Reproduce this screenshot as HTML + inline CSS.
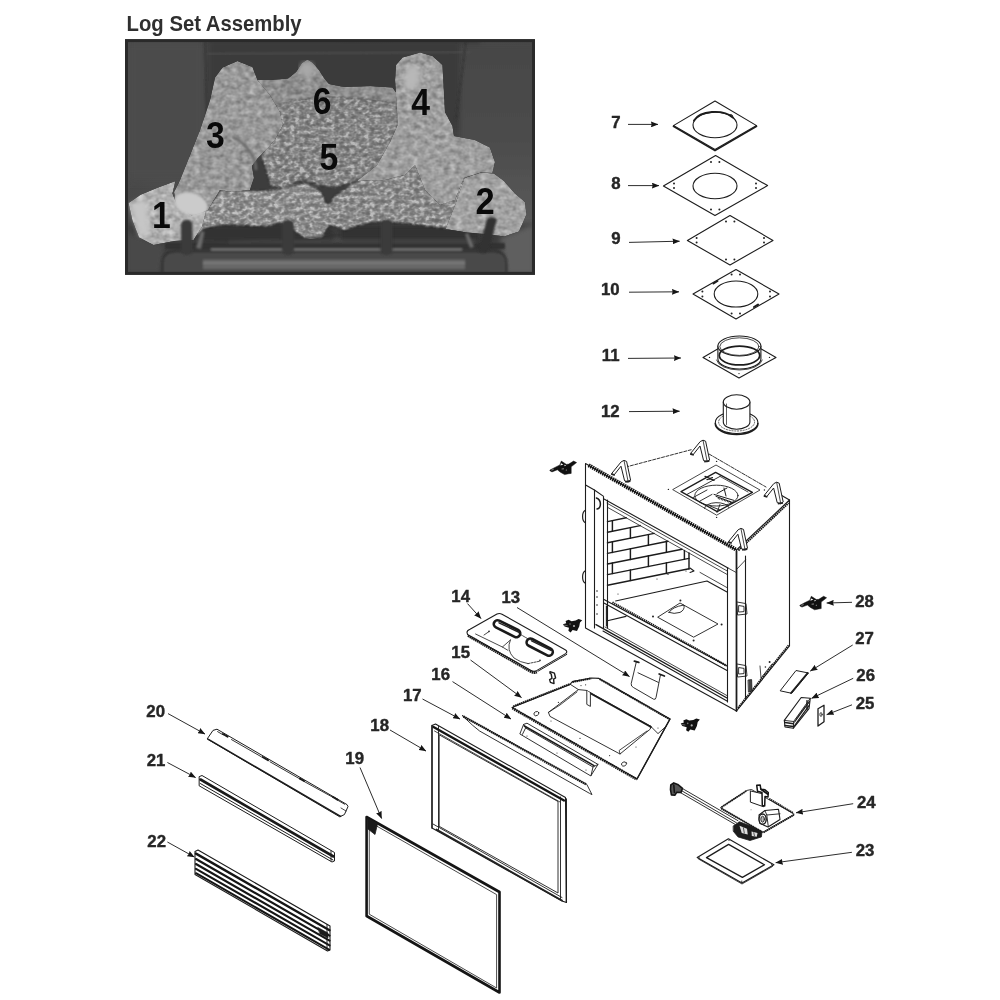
<!DOCTYPE html>
<html lang="en">
<head>
<meta charset="utf-8">
<title>Log Set Assembly</title>
<style>
html,body{margin:0;padding:0;background:#fff;}
body{width:1000px;height:1000px;overflow:hidden;font-family:"Liberation Sans",sans-serif;}
svg{display:block;position:absolute;left:0;top:0;will-change:transform;}
.ln{fill:none;stroke:#1c1c1c;stroke-width:1.1;stroke-linejoin:round;stroke-linecap:round;}
.lt{fill:none;stroke:#333;stroke-width:0.8;stroke-linejoin:round;stroke-linecap:round;}
.wf{fill:#fff;stroke:#1c1c1c;stroke-width:1.1;stroke-linejoin:round;}
.lbl{font-family:"Liberation Sans",sans-serif;font-weight:bold;font-size:16.8px;fill:#262626;stroke:#262626;stroke-width:0.4px;stroke-linejoin:round;}
.big{font-family:"Liberation Sans",sans-serif;font-weight:bold;font-size:37.5px;fill:#0a0a0a;}
.ttl{font-family:"Liberation Sans",sans-serif;font-weight:bold;font-size:21.4px;fill:#2f2f2f;}
.nss,.nss *{vector-effect:non-scaling-stroke;}
.ar{fill:none;stroke:#222;stroke-width:0.95;}
</style>
</head>
<body>
<svg width="1000" height="1000" viewBox="0 0 1000 1000">
<defs>
<marker id="ah" viewBox="0 0 10 8" refX="9.6" refY="4" markerWidth="7.4" markerHeight="5.9" markerUnits="userSpaceOnUse" orient="auto">
<path d="M0,0 L10,4 L0,8 L0.9,4 Z" fill="#151515"/>
</marker>
</defs>
<!-- 05_defs.svg -->
<defs>
<g id="clipA">
<path d="M0.3,9.3 L5.4,6.6 L10.2,4.2 L11.7,0.3 L16.8,3.6 L19.2,3.3 L24,0.3 L27,1.8 L21.6,6 L21.6,12.6 L19.2,12.9 L15,13.8 L10.8,11.4 L7.8,9 L2.4,11.1 L0.3,9.9 Z" fill="#111" stroke="#111" stroke-width="0.5" stroke-linejoin="round"/>
<path d="M11.4,2.4 L13.8,3.6 L10.8,4.8 Z M14.8,3.9 L16.6,4.5 L15,5.5 Z" fill="#fff"/>
<path d="M12,8.2 L14.4,8 M16.2,9.4 L17.4,9.2 M1.8,9.4 L4,8.6" stroke="#9a9a9a" stroke-width="0.9" fill="none"/>
</g>
<g id="clipB">
<path d="M3,2.5 L6,1.2 L9,2.6 L13,2 L16,0.4 L19.6,1.6 L17.4,4 L16.6,8 L14.4,12.4 L10,11.4 L8,13.8 L5.8,12.2 L6.4,9.2 L2,8 L0.4,5.6 L3.6,4.6 Z" fill="#111"/>
<circle cx="11.4" cy="7.4" r="1.1" fill="#aaa"/><circle cx="7.4" cy="5.4" r="0.8" fill="#777"/>
<path d="M1,6.5 L5,7" stroke="#888" stroke-width="0.7"/>
</g>
<g id="brk">
<path d="M-2.4,0.6 L0.4,-0.8 L3,0.2 L7,19 L4.6,20.8 L1,19.6 L-2.6,5 L-9.4,13.6 L-12,12.4 Z" fill="#fff" stroke="#1c1c1c" stroke-width="1"/>
<path d="M0.4,-0.8 L4.6,20.8" fill="none" stroke="#1c1c1c" stroke-width="0.8"/>
<path d="M-12.4,12.8 L-8.8,14 M1.6,20.6 L6.8,19.8" fill="none" stroke="#222" stroke-width="1.8"/>
</g>
</defs>

<!-- 10_title.svg -->
<text class="ttl" x="126.6" y="30.8" textLength="175" lengthAdjust="spacingAndGlyphs">Log Set Assembly</text>

<!-- 20_photo.svg -->
<defs>
<linearGradient id="bgL" x1="0" y1="0" x2="1" y2="0">
<stop offset="0" stop-color="#484848"/><stop offset="0.1" stop-color="#4c4c4c"/><stop offset="0.2" stop-color="#474747"/>
<stop offset="0.55" stop-color="#3e3e3e"/><stop offset="0.8" stop-color="#404040"/><stop offset="0.88" stop-color="#484848"/><stop offset="1" stop-color="#474747"/>
</linearGradient>
<linearGradient id="bgR" x1="0" y1="0" x2="0" y2="1"><stop offset="0" stop-color="#464646"/><stop offset="0.5" stop-color="#4c4c4c"/><stop offset="1" stop-color="#5a5a5a"/></linearGradient>
<linearGradient id="barG" x1="0" y1="0" x2="0" y2="1">
<stop offset="0" stop-color="#3a3a3a"/><stop offset="0.22" stop-color="#747474"/><stop offset="0.45" stop-color="#4a4a4a"/><stop offset="0.75" stop-color="#5c5c5c"/><stop offset="1" stop-color="#3a3a3a"/>
</linearGradient>
<linearGradient id="bar2G" x1="0" y1="0" x2="0" y2="1">
<stop offset="0" stop-color="#333"/><stop offset="0.5" stop-color="#5a5a5a"/><stop offset="1" stop-color="#333"/>
</linearGradient>
<filter id="tex" x="0" y="0" width="100%" height="100%" color-interpolation-filters="sRGB">
<feTurbulence type="fractalNoise" baseFrequency="0.16 0.2" numOctaves="2" seed="7" result="n"/>
<feColorMatrix in="n" type="matrix" values="0.5 0.5 0 0 0  0.5 0.5 0 0 0  0.5 0.5 0 0 0  0 0 0 0 1" result="g"/>
<feGaussianBlur in="SourceGraphic" stdDeviation="0.7" result="s"/>
<feComposite in="s" in2="g" operator="arithmetic" k1="0" k2="1" k3="0.5" k4="-0.25" result="m"/>
<feComposite in="m" in2="s" operator="in"/>
</filter>
<filter id="tex2" x="0" y="0" width="100%" height="100%" color-interpolation-filters="sRGB">
<feTurbulence type="fractalNoise" baseFrequency="0.2 0.26" numOctaves="2" seed="11" result="n"/>
<feColorMatrix in="n" type="matrix" values="0.5 0.5 0 0 0  0.5 0.5 0 0 0  0.5 0.5 0 0 0  0 0 0 0 1" result="g0"/>
<feComponentTransfer in="g0" result="g"><feFuncR type="gamma" amplitude="3.4" exponent="3" offset="0"/><feFuncG type="gamma" amplitude="3.4" exponent="3" offset="0"/><feFuncB type="gamma" amplitude="3.4" exponent="3" offset="0"/></feComponentTransfer>
<feGaussianBlur in="SourceGraphic" stdDeviation="0.8" result="s"/>
<feComposite in="s" in2="g" operator="arithmetic" k1="0" k2="1" k3="0.34" k4="-0.14" result="m"/>
<feGaussianBlur in="m" stdDeviation="0.45" result="mb"/>
<feComposite in="mb" in2="s" operator="in"/>
</filter>
<filter id="bl1"><feGaussianBlur stdDeviation="1"/></filter>
<filter id="bl2"><feGaussianBlur stdDeviation="2.5"/></filter>
<filter id="bl4"><feGaussianBlur stdDeviation="5"/></filter>
<clipPath id="phc"><rect x="126" y="40" width="408" height="234"/></clipPath>
</defs>
<rect x="125.5" y="39.5" width="409" height="235" fill="url(#bgL)"/>
<g clip-path="url(#phc)">
<!-- back wall -->
<rect x="205" y="40" width="275" height="90" fill="#3a3a3a" filter="url(#bl2)"/>
<rect x="126" y="40" width="80" height="140" fill="#4b4b4b" filter="url(#bl4)"/>
<rect x="460" y="44" width="76" height="190" fill="url(#bgR)" filter="url(#bl2)"/>
<path d="M207,54 L470,52" stroke="#505050" stroke-width="1.5" fill="none" filter="url(#bl1)"/>
<path d="M205,40 L207,120 M466,40 L456,120" stroke="#333" stroke-width="1.5" fill="none" filter="url(#bl1)"/>
<!-- floor / bottom -->
<rect x="126" y="224" width="408" height="50" fill="#3c3c3c" filter="url(#bl2)"/>
<path d="M500,238 L534,224 L534,274 L506,274 Z" fill="#5e5e5e" filter="url(#bl2)"/>
<path d="M126,232 L165,246 L160,274 L126,274 Z" fill="#484848" filter="url(#bl2)"/>
<!-- grate -->
<g filter="url(#bl1)">
<rect x="227" y="236.5" width="250" height="9.5" rx="4.5" fill="#4a4a4a" stroke="#2c2c2c" stroke-width="1.2"/>
<rect x="165" y="243" width="340" height="6" fill="#303030"/>
<path d="M162.5,274 L162.5,263 Q162.5,251.5 176,251.5 L494,251.5 Q506,251.5 506.5,263 L506.5,274 Z" fill="#484848" stroke="#2a2a2a" stroke-width="1.6"/>
<rect x="203" y="259.6" width="262" height="9.6" fill="#686868"/>
<rect x="203" y="262.2" width="262" height="1.6" fill="#808080"/>
<path d="M211,249.6 L462,249.6" stroke="#8e8e8e" stroke-width="1.5" fill="none"/>
</g>
</g>

<!-- 22_logs.svg -->
<g clip-path="url(#phc)">
<!-- shadows behind logs -->
<path d="M248,160 L268,160 L272,195 L244,195 Z M320,180 L360,175 L350,205 L322,210 Z" fill="#3c3c3c" filter="url(#bl1)"/>
<path d="M200,225 L330,222 L335,240 L200,242 Z M340,225 L480,225 L480,240 L340,240 Z" fill="#333" filter="url(#bl2)"/>
<g filter="url(#tex)">
<!-- log 6 back -->
<path d="M257,80 L270,80 L288,78.5 L296,72 L302,63 L307.5,59.5 L313,63 L319,70 L324,78 L329,84 L345,87 L370,86 L392.5,87.5 L398,95 L398,130 L385,158 L330,150 L300,110 L265,120 Z" fill="#8e8e8e"/>
</g>
<g filter="url(#tex2)">
<!-- log 5 center -->
<path d="M262,108 L290,100 L330,96 L360,98 L397,102 L398,125 L392,142 L380,162 L368,174 L352,183 L335,188 L320,186 L303,180 L285,188 L270,186 L266,172 L262,160 L262,140 Z" fill="#858585"/>
<!-- right lower log -->
<path d="M352,184 L370,172 L385,156 L400,150 L440,150 L465,176 L470,228 L445,229 L424,226 L399,223 L378,222 L361,225 L345,231 L330,225 L324,210 L335,195 Z" fill="#8a8a8a"/>
<!-- middle lower log -->
<path d="M205,212 L220,190 L250,190 L268,190 L285,188 L305,182 L320,190 L328,205 L330,225 L322,238 L305,239 L294,231 L280,223 L267,227 L246,226 L225,225 L204,229 L198,236 L190,225 Z" fill="#8e8e8e"/>
</g>
<g filter="url(#tex)">
<!-- log 4 + right lump -->
<path d="M420,52.5 L432.5,56 L442.5,65 L444,92 L445,112 L452.5,126 L454,136 L475,140 L490,147.5 L495,162 L492.5,173 L481,172.5 L464,178 L455,200 L440,205 L425,190 L415,165 L405,175 L385,180 L357,181 L377,165 L390,142 L398,124 L397,112 L395,80 L396,65 L402.5,57.5 Z" fill="#9e9e9e"/>
<!-- log 3 -->
<path d="M237.5,61 L252.5,67 L257.5,80 L270,95 L280,112 L283,125 L275,140 L266,150 L258,158 L252,166 L254,178 L250,190 L232,192 L220,190 L208,210 L192,216 L176,206 L174,192 L180,180 L190,155 L200,130 L210,100 L215,77.5 L222.5,67.5 Z" fill="#999"/>
<!-- log 1 -->
<path d="M128.5,203 L141,194.5 L158,187.5 L175.5,181 L172.5,193.5 L177,205 L191.5,215.5 L206,211.5 L202,227 L193.5,240 L174.5,241 L153.5,245 L139,237.5 L132.5,221 Z" fill="#b0b0b0"/>
<!-- log 2 -->
<path d="M464.5,178 L481,172.5 L494,173.5 L504,181 L515,193.5 L525,202 L526.5,214.5 L519,231.5 L504.5,236.5 L489.5,234.5 L466.5,232.5 L445.5,229 L455,205 Z" fill="#a2a2a2"/>
</g>
<path d="M232,137 Q242,140 250,152 Q256,160 256,170" fill="none" stroke="#6a6a6a" stroke-width="2.5" filter="url(#bl1)"/>
<!-- highlights -->
<ellipse cx="191" cy="204" rx="17" ry="11" transform="rotate(18 191 204)" fill="#cbcbcb" filter="url(#bl1)"/>
<ellipse cx="412" cy="78" rx="8" ry="13" transform="rotate(12 412 78)" fill="#b8b8b8" filter="url(#bl2)"/>
<path d="M130,205 L146,198 L150,235 L140,236 Z" fill="#c6c6c6" filter="url(#bl2)"/>
<ellipse cx="307" cy="70" rx="7" ry="8" fill="#a8a8a8" filter="url(#bl2)"/>
<!-- prongs -->
<g filter="url(#bl1)" fill="#3a3a3a">
<rect x="181" y="220" width="11.5" height="35" rx="5"/>
<rect x="282" y="220" width="12" height="35" rx="5"/>
<rect x="380.5" y="220" width="12" height="35" rx="5"/>
<path d="M487,219 Q492,215 497,219 L488.5,251 Q483,255 478,251 Z" fill="#303030"/>
<path d="M196,248 L201,231 L204.5,232 L201,249 Z" fill="#6a6a6a"/>
<path d="M470,248 L465,234 L468,233 L474,247 Z" fill="#6a6a6a"/>
</g>
</g>
<rect x="126.5" y="40.6" width="407" height="232.8" fill="none" stroke="#2a2a2a" stroke-width="3"/>
<g class="big" text-anchor="middle">
<text transform="translate(161.4 228.4) scale(0.9 1)">1</text>
<text transform="translate(485 214) scale(0.92 1)">2</text>
<text transform="translate(215.4 147.6) scale(0.9 1)">3</text>
<text transform="translate(420.6 115) scale(0.9 1)">4</text>
<text transform="translate(328.8 169.6) scale(0.9 1)">5</text>
<text transform="translate(322.2 114.4) scale(0.9 1)">6</text>
</g>

<!-- 30_flue.svg -->
<g class="ln">
<!-- 7 -->
<path d="M715,101 L756.6,125.6 L715,149.6 L673.4,125.6 Z" fill="#fff"/>
<path d="M673.4,126.4 L715,150.6 L756.6,126.4" stroke-width="1.6"/>
<ellipse cx="715" cy="125" rx="22" ry="12.8"/>
<path d="M694,120.5 A22,12.8 0 0 1 733,117.5" stroke-width="1.9"/>
<circle cx="731" cy="115.6" r="1.2" stroke-width="0.8"/>
<!-- 8 -->
<path d="M715.6,155.6 L767.6,185.6 L715,215.6 L663.4,186 Z" fill="#fff"/>
<ellipse cx="715" cy="186" rx="22" ry="12.8"/>
<!-- 9 -->
<path d="M730,215.6 L773,240.4 L730,265 L687.4,240.4 Z" fill="#fff"/>
<!-- 10 -->
<path d="M736,269.6 L779,294 L736,319 L693,294 Z" fill="#fff"/>
<ellipse cx="736" cy="294" rx="21.8" ry="13"/>
<path d="M713.5,283.5 L717.5,281 M754,307 L758,304.6" stroke-width="2"/>
<!-- 11 -->
<path d="M718.5,348.5 L703,357.4 L739,378 L776,357.4 L760.5,348.5" fill="#fff"/>
<path d="M717.9,346 L717.9,359 A21.5,10 0 0 0 760.9,359 L760.9,346" fill="#fff"/>
<ellipse cx="739.4" cy="346" rx="21.5" ry="10" fill="#fff"/>
<ellipse cx="739.4" cy="346.6" rx="19.6" ry="8.8" stroke-width="0.8"/>
<ellipse cx="739.5" cy="355.5" rx="20.2" ry="9.4" stroke-width="1.7"/>

<path d="M716.5,360 A23,11 0 0 0 762.3,360" stroke-width="0.8"/>
<!-- 12 -->
<ellipse cx="736.6" cy="422.5" rx="21.3" ry="11" fill="#fff"/>
<path d="M715.3,423.5 A21.3,11 0 0 0 757.9,423.5" stroke-width="1.6"/>
<ellipse cx="736.6" cy="422" rx="18" ry="9" stroke-width="0.7" stroke-dasharray="1.2 1.6"/>
<path d="M723.3,402 L723.3,422 A13.3,7.2 0 0 0 749.9,422 L749.9,402" fill="#fff"/>
<ellipse cx="736.6" cy="402" rx="13.3" ry="7.2" fill="#fff"/>
<path d="M726.5,404 L726.5,424.5" stroke-width="0.7"/>
</g>
<g fill="#222">
<circle cx="711" cy="162" r="1"/><circle cx="719.4" cy="162" r="1"/>
<circle cx="674" cy="183.4" r="1"/><circle cx="674" cy="188" r="1"/>
<circle cx="756" cy="183.4" r="1"/><circle cx="756" cy="188" r="1"/>
<circle cx="711" cy="209.4" r="1"/><circle cx="719.4" cy="209.4" r="1"/>
<circle cx="726" cy="221.4" r="1"/><circle cx="734.4" cy="221.4" r="1"/>
<circle cx="696.6" cy="238" r="1"/><circle cx="696.6" cy="242.4" r="1"/>
<circle cx="764" cy="238" r="1"/><circle cx="764" cy="242.4" r="1"/>
<circle cx="726" cy="259.4" r="1"/><circle cx="734.4" cy="259.4" r="1"/>
<circle cx="731.6" cy="274.4" r="1"/><circle cx="740" cy="274.4" r="1"/>
<circle cx="702.4" cy="291.6" r="1"/><circle cx="702.4" cy="296.4" r="1"/>
<circle cx="770" cy="291.6" r="1"/><circle cx="770" cy="296.4" r="1"/>
<circle cx="731.6" cy="313.6" r="1"/><circle cx="740" cy="313.6" r="1"/>
<circle cx="709.5" cy="357.4" r="0.7"/><circle cx="769.5" cy="357.4" r="0.7"/><circle cx="739" cy="373.6" r="0.7"/>
</g>

<!-- 40_firebox.svg -->
<!-- firebox body: source coords -->
<g class="ln">
<!-- silhouettes (white fill) -->
<path d="M585.6,463.6 L626,467 L692,449 L710,454 L768,488 L789.6,500 L789.6,646 L736,711 L585.6,628 Z" fill="#fff" stroke="none"/>
<!-- right side face -->
<path d="M736.5,550 L789.5,500 L789.5,646 L736.5,711"/>
<path d="M738.4,550.4 L788.6,503" stroke="#1a1a1a" stroke-width="2" stroke-dasharray="1.6 0.6" stroke-linecap="butt"/>
<path d="M738,708 L788.6,645.4" stroke="#1a1a1a" stroke-width="2" stroke-dasharray="1.6 0.6" stroke-linecap="butt"/>
<path d="M745.5,556 L745.5,699"/>
<path d="M736.5,551 L736.5,711" stroke-width="1.7"/>
<path d="M737,569 L745.5,560" stroke-width="0.8"/>
<!-- front outer -->
<path d="M585.5,463.6 L585.5,628 L736.5,711 L736.5,550 Z"/>
<!-- top back edges -->
<path d="M626,467 L692,449.5" stroke-dasharray="3 1.6" stroke-width="0.9"/>
<path d="M709,454 L766,487" stroke-dasharray="3.2 1.2 0.8 1.2" stroke-width="0.9"/>
<path d="M780,494.5 L789.5,500"/>

</g>
<!-- tile T1: origin 540,430 scale 5 -->
<g transform="translate(540 430) scale(0.2)" class="ln nss">
<!-- rack along top front edge -->
<path d="M243,176 L980,598" stroke="#151515" stroke-width="4" stroke-dasharray="1.5 0.8" stroke-linecap="butt"/>
<!-- rail bottom / opening top -->
<path d="M228,275 L272,300 L318,332"/>
<path d="M272.5,300 L272.5,990 M317.5,335 L317.5,990 M337.5,350 L337.5,990" />
<path d="M320,345 L940,690"/>
<path d="M335,366 L938,706" stroke-width="0.8"/>
<path d="M340,388 L935,722" stroke-width="0.8"/>
<path d="M937.5,692 L937.5,1360"/>
<path d="M940,690 L980,712" stroke-width="0.8"/>
<!-- bricks -->
<g stroke-width="1.45">
<path d="M337.5,458 L431,439 M337.5,511 L501,478 M337.5,564 L571,517 M337.5,617 L640,556 M337.5,670 L710,596 M337.5,723 L745,642 M337.5,776 L745,694"/>
<path d="M362,453 L362,506 M452,488 L452,541 M362,559 L362,612 M542,523 L542,576 M452,594 L452,647 M632,558 L632,611 M362,665 L362,718 M542,629 L542,682 M722,602 L722,646 M452,700 L452,753 M632,664 L632,717"/>
<path d="M745,615 L745,695"/>
</g>
</g>
<g class="ln">
<path d="M596.4,498 Q600.4,499.5 600.4,504 Q600.4,508.5 597,509" fill="none" stroke-width="1.5"/>
<path d="M585,510.5 Q582.6,512 582.6,516.5 Q582.6,521 585,522.5 M585,571 Q582.6,572.5 582.6,577 Q582.6,581.5 585,583" stroke-width="1.2"/>
</g>
<!-- tile T3: origin 560,560 scale 5 -->
<g transform="translate(560 560) scale(0.2)" class="ln nss">
<path d="M650,40 L670,55 L650,62"/>
<path d="M278,205 L735,105 L835,160"/>
<path d="M700,62 L835,138" stroke-width="0.8"/>
<!-- lower rail w/ rack -->
<path d="M220,198 L835,530"/>
<path d="M222,216 L835,552"/>
<path d="M262,212 L832,528" stroke="#1a1a1a" stroke-width="2.2" stroke-dasharray="1.3 0.7" stroke-linecap="butt"/>
<!-- lower compartment -->
<path d="M232,230 L232,330 M232,305 L330,282"/>
<!-- bottom rail -->
<path d="M180,323 L835,690" stroke-width="1.4"/>
<path d="M215,355 L835,705" stroke-width="1.1"/>
<path d="M225,335 L835,678" stroke-width="0.8"/>
<!-- floor plate -->
<path d="M490,285 L600,215 L790,320 L670,385 Z" stroke-width="0.9"/>
<path d="M545,262 Q560,235 620,225 Q625,250 600,262 Q570,272 545,262 Z" stroke-width="0.9"/>
<g fill="#222" stroke="none"><circle cx="465" cy="283" r="5"/><circle cx="602" cy="203" r="5"/><circle cx="808" cy="322" r="5"/><circle cx="668" cy="402" r="5"/>
<circle cx="185" cy="155" r="4"/><circle cx="185" cy="185" r="4"/><circle cx="185" cy="225" r="4"/><circle cx="185" cy="270" r="4"/>
<circle cx="290" cy="170" r="3"/><circle cx="485" cy="95" r="3"/><circle cx="540" cy="72" r="3"/><circle cx="630" cy="55" r="3"/></g>
</g>
<!-- tile T4: origin 660,560 scale 5 -->
<g transform="translate(660 560) scale(0.2)" class="ln nss">
<path d="M385,210 L430,218 L435,270 L390,275 Z M395,228 L420,232 L420,258 L395,260 Z" stroke-width="0.9"/>
<path d="M385,520 L430,528 L435,580 L390,585 Z M395,538 L420,542 L420,568 L395,570 Z" stroke-width="0.9"/>
<path d="M442,600 L458,598 L460,655 L444,660 Z" fill="#444" stroke-width="0.8"/>
<path d="M500,530 L505,590 M505,590 L560,520" stroke-width="0.8"/>
<g fill="#222" stroke="none"><circle cx="527" cy="535" r="4"/><circle cx="548" cy="510" r="5"/></g>
</g>

<!-- 42_firebox_top.svg -->
<!-- flue recess: tile T2 origin 660,430 scale 5 -->
<g transform="translate(660 430) scale(0.2)" class="ln nss">
<path d="M65,297 L280,175 L500,300 L285,425 Z" stroke-width="0.8"/>
<path d="M105,308 L278,212 L462,312 L286,408 Z" stroke-width="1.3"/>
<path d="M135,322 L300,232 M165,338 L235,300 M200,355 L260,322" stroke-width="0.9"/>
<path d="M300,232 L440,310" stroke-width="0.8"/>
<ellipse cx="282" cy="328" rx="108" ry="52" stroke-width="0.9"/>
<path d="M222,392 A62,30 0 0 1 345,388" stroke-width="0.9"/>
<path d="M225,232 L270,252 M235,248 L262,238" stroke-width="1.3"/>
<path d="M270,322 L370,352 M285,318 L335,290 M320,290 L330,330 M280,332 L360,362" stroke-width="1"/>
<path d="M290,340 L365,365" stroke-width="2" stroke-dasharray="0.8 0.8" stroke-linecap="butt"/>
<path d="M250,380 L300,400 M300,372 L285,412" stroke-width="0.9"/>
<g fill="#222" stroke="none"><circle cx="42" cy="297" r="3.5"/><circle cx="283" cy="157" r="3.5"/><circle cx="522" cy="300" r="3.5"/><circle cx="283" cy="437" r="3.5"/></g>
</g>
<use href="#brk" x="623.6" y="461.2"/>
<use href="#brk" x="702.6" y="441"/>
<use href="#brk" x="776.2" y="483"/>
<use href="#brk" x="740.5" y="529.2"/>
<use href="#clipA" x="549.6" y="460.8"/>
<use href="#clipA" x="799.6" y="596"/>
<use href="#clipB" x="562.6" y="618.6"/>
<use href="#clipB" x="680.3" y="718"/>

<!-- 50_mid.svg -->
<!-- part 14: tile T5 origin 430,580 scale 5 -->
<g transform="translate(430 580) scale(0.2)" class="ln nss">
<path d="M185,262 Q185,252 200,246 L335,170 Q347,164 360,171 L678,350 Q690,358 678,368 L535,452 Q520,460 505,452 L195,278 Q185,272 185,262 Z" fill="#fff"/>
<path d="M190,278 L508,460 Q520,466 534,460" stroke-width="2.8" stroke="#1a1a1a" stroke-dasharray="1.6 0.5" stroke-linecap="butt"/>
<path d="M540,456 L684,372" stroke-width="1"/>
<!-- slots -->
<path d="M338,220 L432,267" stroke="#1a1a1a" stroke-width="10.2" stroke-linecap="round"/>
<path d="M338,220 L432,267" stroke="#fff" stroke-width="5" stroke-linecap="round"/>
<path d="M345,214 L445,262" stroke="#222" stroke-width="1.4" stroke-linecap="round"/>
<path d="M502,312 L595,360" stroke="#1a1a1a" stroke-width="10.2" stroke-linecap="round"/>
<path d="M502,312 L595,360" stroke="#fff" stroke-width="5" stroke-linecap="round"/>
<path d="M508,304 L605,352" stroke="#222" stroke-width="1.4" stroke-linecap="round"/>
<!-- inner lines -->
<path d="M228,270 L362,335 L402,300 M362,335 L390,352" stroke-width="0.8"/>
<path d="M402,300 Q380,350 420,390 Q450,412 490,418" stroke-width="0.8"/>
<path d="M490,418 L548,406" stroke-width="0.8" stroke-dasharray="2 1.2"/>
<path d="M270,275 L295,258" stroke-width="0.8"/>
<path d="M445,268 L500,300" stroke-width="0.8" stroke-dasharray="1.5 1"/>
<g fill="#222" stroke="none"><circle cx="295" cy="257" r="4"/><circle cx="550" cy="402" r="4"/></g>
<!-- small hook -->
<path d="M600,458 L622,466 L628,490 L618,496 L620,518 L602,512 L598,498 L610,492 L606,470 L600,466 Z" fill="#fff" stroke-width="1.4"/>
</g>
<!-- parts 15,16,17,13: tile T6 origin 500,660 scale 5 -->
<g transform="translate(500 660) scale(0.2)" class="ln nss">
<!-- 15 -->
<path d="M60,237 L350,122 L362,108 L458,90 L495,92 L850,295 L685,595 Z" fill="#fff"/>
<path d="M62,241 L684,597" stroke="#1a1a1a" stroke-width="2.7" stroke-dasharray="1.5 0.7" stroke-linecap="butt"/>
<path d="M66,232 L350,120" stroke="#1a1a1a" stroke-width="2" stroke-dasharray="1.6 0.5" stroke-linecap="butt"/>
<path d="M498,95 L848,296" stroke="#1a1a1a" stroke-width="2" stroke-dasharray="1.6 0.5" stroke-linecap="butt"/>
<path d="M362,110 L456,92" stroke="#1a1a1a" stroke-width="2" stroke-dasharray="1.6 0.5" stroke-linecap="butt"/>
<path d="M850,295 L685,595" stroke-width="1.4"/>
<path d="M352,122 L392,148 L432,152 L752,330 L790,368 L832,330" stroke-width="0.9"/>
<path d="M392,148 L242,262 L250,282 L600,470 L752,345 L752,330" stroke-width="0.9"/>
<path d="M242,262 L300,225 L385,160" stroke-width="0.8"/>
<path d="M600,470 L596,452 L735,355" stroke-width="0.8"/>
<path d="M440,160 L755,335" stroke-width="1.8"/>
<path d="M434,152 L434,222 L452,232 L452,165" stroke-width="0.9" fill="#fff"/>
<ellipse cx="182" cy="268" rx="13" ry="10" transform="rotate(-25 182 268)" stroke-width="0.9"/>
<ellipse cx="620" cy="520" rx="13" ry="10" transform="rotate(-25 620 520)" stroke-width="0.9"/>
<g fill="#333" stroke="none"><circle cx="255" cy="305" r="3"/><circle cx="400" cy="392" r="3"/><circle cx="548" cy="478" r="3"/><circle cx="680" cy="435" r="3"/><circle cx="790" cy="340" r="3"/><circle cx="405" cy="128" r="3"/><circle cx="428" cy="124" r="3"/><circle cx="292" cy="212" r="3"/></g>
<!-- 16 -->
<path d="M100,368 L118,322 L135,316 L490,522 L455,578 Z" fill="#fff" stroke-width="0.9"/>
<path d="M118,322 L128,340 L465,535 L490,522 M128,340 L112,372 M465,535 L455,578" stroke-width="0.9"/>
<path d="M122,330 L470,528" stroke-width="1.6"/>
<g fill="#333" stroke="none"><circle cx="135" cy="380" r="3"/><circle cx="285" cy="465" r="3"/><circle cx="430" cy="550" r="3"/></g>
<!-- 13 -->
<path d="M682,8 L656,118 Q654,132 668,138 L768,196 Q778,200 780,188 L802,76" stroke-width="0.9" fill="#fff"/>
<path d="M690,64 L792,112" stroke-width="0.9"/>
<path d="M672,6 L694,12 M796,70 L822,80" stroke-width="1.8"/>
</g>
<!-- 17 bar -->
<g class="ln">
<path d="M462.4,715.6 L586.8,784.4 L592,794.6 L589.6,793.4 L479.6,731 L473,725.6 Z" fill="#fff" stroke-width="0.9"/>
<path d="M463.4,716.4 L586.4,784.5" stroke="#1a1a1a" stroke-width="2.3" stroke-dasharray="1.5 0.6" stroke-linecap="butt"/>
</g>

<!-- 60_front.svg -->
<!-- part 18 frame -->
<g class="ln">
<path d="M432,725.5 L435.5,724 L565.5,797.5 L566.5,902.5 L562,901 L432,828 Z" fill="#fff"/>
<path d="M439.5,735 L558,801.5 L558,893 L439.5,826.5 Z" fill="#fff" stroke-width="0.9"/>
<path d="M433.5,727 L564,800.5" stroke="#151515" stroke-width="2.4"/>
<path d="M438.5,726.5 L438.5,830 M560.5,797 L560.5,899" stroke-width="0.9"/>
<path d="M434.5,731 L560,802" stroke-width="0.8"/>
<path d="M433,824 L562,897.5" stroke-width="0.9"/>
<path d="M436.5,829.5 L562,900.5" stroke="#222" stroke-width="1.8"/>
<path d="M432,725.5 L432,828 M566.3,799 L566.3,902" stroke-width="1.3"/>
</g>
<!-- part 19 glass -->
<g class="ln">
<path d="M366.6,817 L499.5,892 L499.5,992.5 L366.6,916 Z" fill="#fff" stroke="#151515" stroke-width="2.6"/>
<path d="M369.6,822 L496.6,894.6 L496.6,988 L369.6,914.4 Z" stroke-width="0.8"/>
<path d="M368,818.5 L377.5,824 L375,834.5 L368,829 Z" fill="#1a1a1a" stroke-width="0.8"/>
</g>
<!-- part 20 -->
<g class="ln">
<path d="M207.4,738.6 L213,730.4 L217,729.2 L347,804.6 L348,806.6 L344.4,814.6 L340,816.6 Z" fill="#fff" stroke-width="1"/>
<path d="M208,739.2 L340.6,816.4" stroke-width="1.5"/>
<path d="M217.6,731.6 L223,734.8 M231.5,739.6 L261,756.6 M270,761.8 L300,779 M304,781.4 L333,797.4 M337,799.8 L344.6,804.2" stroke-width="0.9"/>
<path d="M223,734 L227.6,736.6 M262.5,757 L268,760.2 M300,778.6 L304,781 M333,797 L337.4,799.6" stroke-width="2"/>
<path d="M341,808 L346,811" stroke-width="0.8"/>
</g>
<!-- part 21 -->
<g class="ln">
<path d="M199.5,776.5 L202,775.5 L334.5,852.5 L334.5,861 L332,862 L199.5,786 Z" fill="#fff" stroke-width="1"/>
<path d="M200.5,779.5 L333.5,856.5" stroke="#1a1a1a" stroke-width="2.6"/>
<path d="M200.5,783.6 L333,860" stroke-width="1"/>
<path d="M331,851 L331,861" stroke-width="0.9"/>
</g>
<!-- part 22 -->
<g class="ln">
<path d="M195,851.5 L198,850 L330,926 L330,950 L327.5,951 L195,874.5 Z" fill="#fff" stroke-width="1.1"/>
<path d="M196,853.6 L329.5,930.2" stroke="#151515" stroke-width="2.4"/>
<path d="M196,859 L329.5,935.6" stroke="#151515" stroke-width="2.1"/>
<path d="M196,864 L329.5,940.6" stroke="#151515" stroke-width="2.1"/>
<path d="M196,868.8 L329.5,945.4" stroke="#151515" stroke-width="2.1"/>
<path d="M196,873.2 L329,949.6" stroke="#151515" stroke-width="2"/>
<path d="M327,924.5 L327,950" stroke-width="1"/>
<path d="M318,927.5 L328,933 L328,938 L320,934 Z" fill="#1a1a1a" stroke-width="0.6"/>
</g>

<!-- 62_right.svg -->
<g class="ln">
<!-- 27 -->
<path d="M780.4,690.5 L796,670.5 L808.5,673 L792,693 Z" fill="#fff" stroke-width="1"/>
<path d="M791,693 L807.6,673" stroke-width="1.7"/>
<!-- 26 -->
<path d="M784.3,720.4 L801.2,697.5 L810.3,698.3 L809,708.7 L793.4,728.2 L785,727 Z" fill="#fff" stroke-width="1.1"/>
<path d="M784.3,720.4 L793.6,721.5 L810.3,698.3 M793.6,721.5 L793.4,728.2" stroke-width="0.9"/>
<path d="M785,722.6 L793.5,723.8 M785,725.4 L793.5,726.6" stroke-width="1.5"/>
<path d="M794.6,722 L809.4,701.6 M794.6,725.6 L809,705.6" stroke-width="1.2"/>
<path d="M807,700.6 L807,709.8" stroke-width="1.4"/>
<path d="M796,719 L805.5,706" stroke-width="0.7"/>
<!-- 25 -->
<path d="M818,708.7 L824,705.3 L824,721.7 L818,726 Z" fill="#fff" stroke-width="1.3"/>
<ellipse cx="821" cy="714.5" rx="1.1" ry="2" stroke-width="0.8"/>
<!-- 23 -->
<path d="M697.2,857.5 L728.4,838.8 L773.9,864.8 L742,883 Z" fill="#fff" stroke-width="1.2"/>
<path d="M706.5,857.6 L728.6,844.4 L764.5,864.8 L742.4,877.4 Z" stroke-width="1.3"/>
<path d="M698.5,859 L742,884 L772.5,866.5" stroke-width="0.8"/>
</g>
<g transform="translate(660 770) scale(0.15)" class="ln nss">
<!-- 24 -->
<path d="M405,250 L580,136 L610,130 L895,295 L685,415 Z" fill="#fff" stroke-width="0.9"/>
<path d="M410,248 L578,138" stroke="#1a1a1a" stroke-width="1.8" stroke-dasharray="1.5 0.5" stroke-linecap="butt"/>
<path d="M408,256 L684,414" stroke="#1a1a1a" stroke-width="1.8" stroke-dasharray="1.5 0.5" stroke-linecap="butt"/>
<path d="M690,416 L893,300" stroke="#1a1a1a" stroke-width="1.7" stroke-dasharray="1.5 0.5" stroke-linecap="butt"/>
<path d="M728,192 L888,286" stroke="#1a1a1a" stroke-width="1.8" stroke-dasharray="1.5 0.5" stroke-linecap="butt"/>
<path d="M605,140 L690,160 L690,245 L605,215 Z" fill="#fff" stroke-width="1"/>
<path d="M645,102 L668,100 L672,128 L700,132 L722,150 L720,180 L700,176 L698,240 L682,236 L680,150 L650,142 Z" fill="#fff" stroke="#151515" stroke-width="1.5"/>
<path d="M676,130 L718,160" stroke="#151515" stroke-width="2"/>
<path d="M660,300 L700,270 L790,262 L800,330 L720,380 L665,355 Z" fill="#fff" stroke-width="1.1"/>
<ellipse cx="684" cy="328" rx="24" ry="34" fill="#fff" stroke-width="1.5"/>
<ellipse cx="684" cy="328" rx="12" ry="20" stroke-width="0.9" fill="#bbb"/>
<path d="M700,272 L712,300 L800,292 M712,300 L722,378" stroke-width="0.9"/>
<circle cx="607" cy="265" r="4" fill="#888" stroke="none"/>
<!-- pipes -->
<path d="M140,118 L520,338 M134,132 L510,352 M128,146 L500,362" stroke-width="0.9"/>
<path d="M72,100 L92,86 L118,96 L150,122 L140,150 L112,148 L100,168 L76,166 L70,130 Z" fill="#555" stroke="#151515" stroke-width="1.6"/>
<path d="M92,100 L96,150" stroke="#151515" stroke-width="1.6"/>
<!-- valve -->
<path d="M490,372 L530,345 L600,372 L680,410 L676,446 L600,470 L520,446 L490,410 Z" fill="#1c1c1c" stroke-width="0.8"/>
<path d="M530,372 L580,392 L585,430 L545,420 Z M610,410 L650,420 L645,445 L612,440 Z" fill="#ddd" stroke="none"/>
<path d="M556,385 L562,420 M625,418 L630,440" stroke="#333" stroke-width="0.8"/>
<!-- 23 corner dots -->
<g fill="#444" stroke="none"><circle cx="262" cy="580" r="5"/><circle cx="460" cy="468" r="5"/><circle cx="745" cy="630" r="5"/><circle cx="545" cy="742" r="5"/></g>
</g>

<!-- 80_labels.svg -->
<g class="lbl" text-anchor="end" transform="translate(0 -0.6)">
<text x="620.6" y="129">7</text>
<text x="620.6" y="189.3">8</text>
<text x="620.6" y="245">9</text>
<text x="619.6" y="295.6">10</text>
<text x="619.6" y="361.6">11</text>
<text x="619.6" y="418">12</text>
<text x="520.2" y="603.4">13</text>
<text x="470" y="602.2">14</text>
<text x="470" y="658.2">15</text>
<text x="450" y="681">16</text>
<text x="421.7" y="701.2">17</text>
<text x="389" y="731.2">18</text>
<text x="364" y="764.2">19</text>
<text x="165" y="717.4">20</text>
<text x="165.4" y="767">21</text>
<text x="166" y="847.2">22</text>
<text x="874.4" y="857">23</text>
<text x="875.6" y="809">24</text>
<text x="874.4" y="710">25</text>
<text x="875" y="682">26</text>
<text x="873.8" y="645">27</text>
<text x="873.8" y="607.3">28</text>
</g>
<g class="ar" marker-end="url(#ah)">
<path d="M628,124.4 L658,124.4"/>
<path d="M628,185.6 L659,185.6"/>
<path d="M629,242.4 L679.6,241.2"/>
<path d="M629,292.2 L679,291.8"/>
<path d="M628,358.4 L681,358"/>
<path d="M629,411.6 L679.6,411.2"/>
<path d="M517,607.5 L629.5,676.5"/>
<path d="M467.5,603.6 L481,618.6"/>
<path d="M470.5,660 L521.5,697.5"/>
<path d="M452.5,681.6 L511,719"/>
<path d="M422.5,699 L460,719"/>
<path d="M390,730 L426,751"/>
<path d="M360,767.5 L381.6,818.5"/>
<path d="M168,713.6 L205,734"/>
<path d="M167.4,762.5 L195.6,777.5"/>
<path d="M167.4,842 L194.4,857"/>
<path d="M851.9,852.3 L775.7,862.7"/>
<path d="M853.2,803.7 L796,812.8"/>
<path d="M852,704.8 L826.7,714.7"/>
<path d="M853.2,678.3 L811.6,698.3"/>
<path d="M852.7,645 L810.3,671"/>
<path d="M852,602.3 L826.7,603"/>
</g>

</svg>
</body>
</html>
